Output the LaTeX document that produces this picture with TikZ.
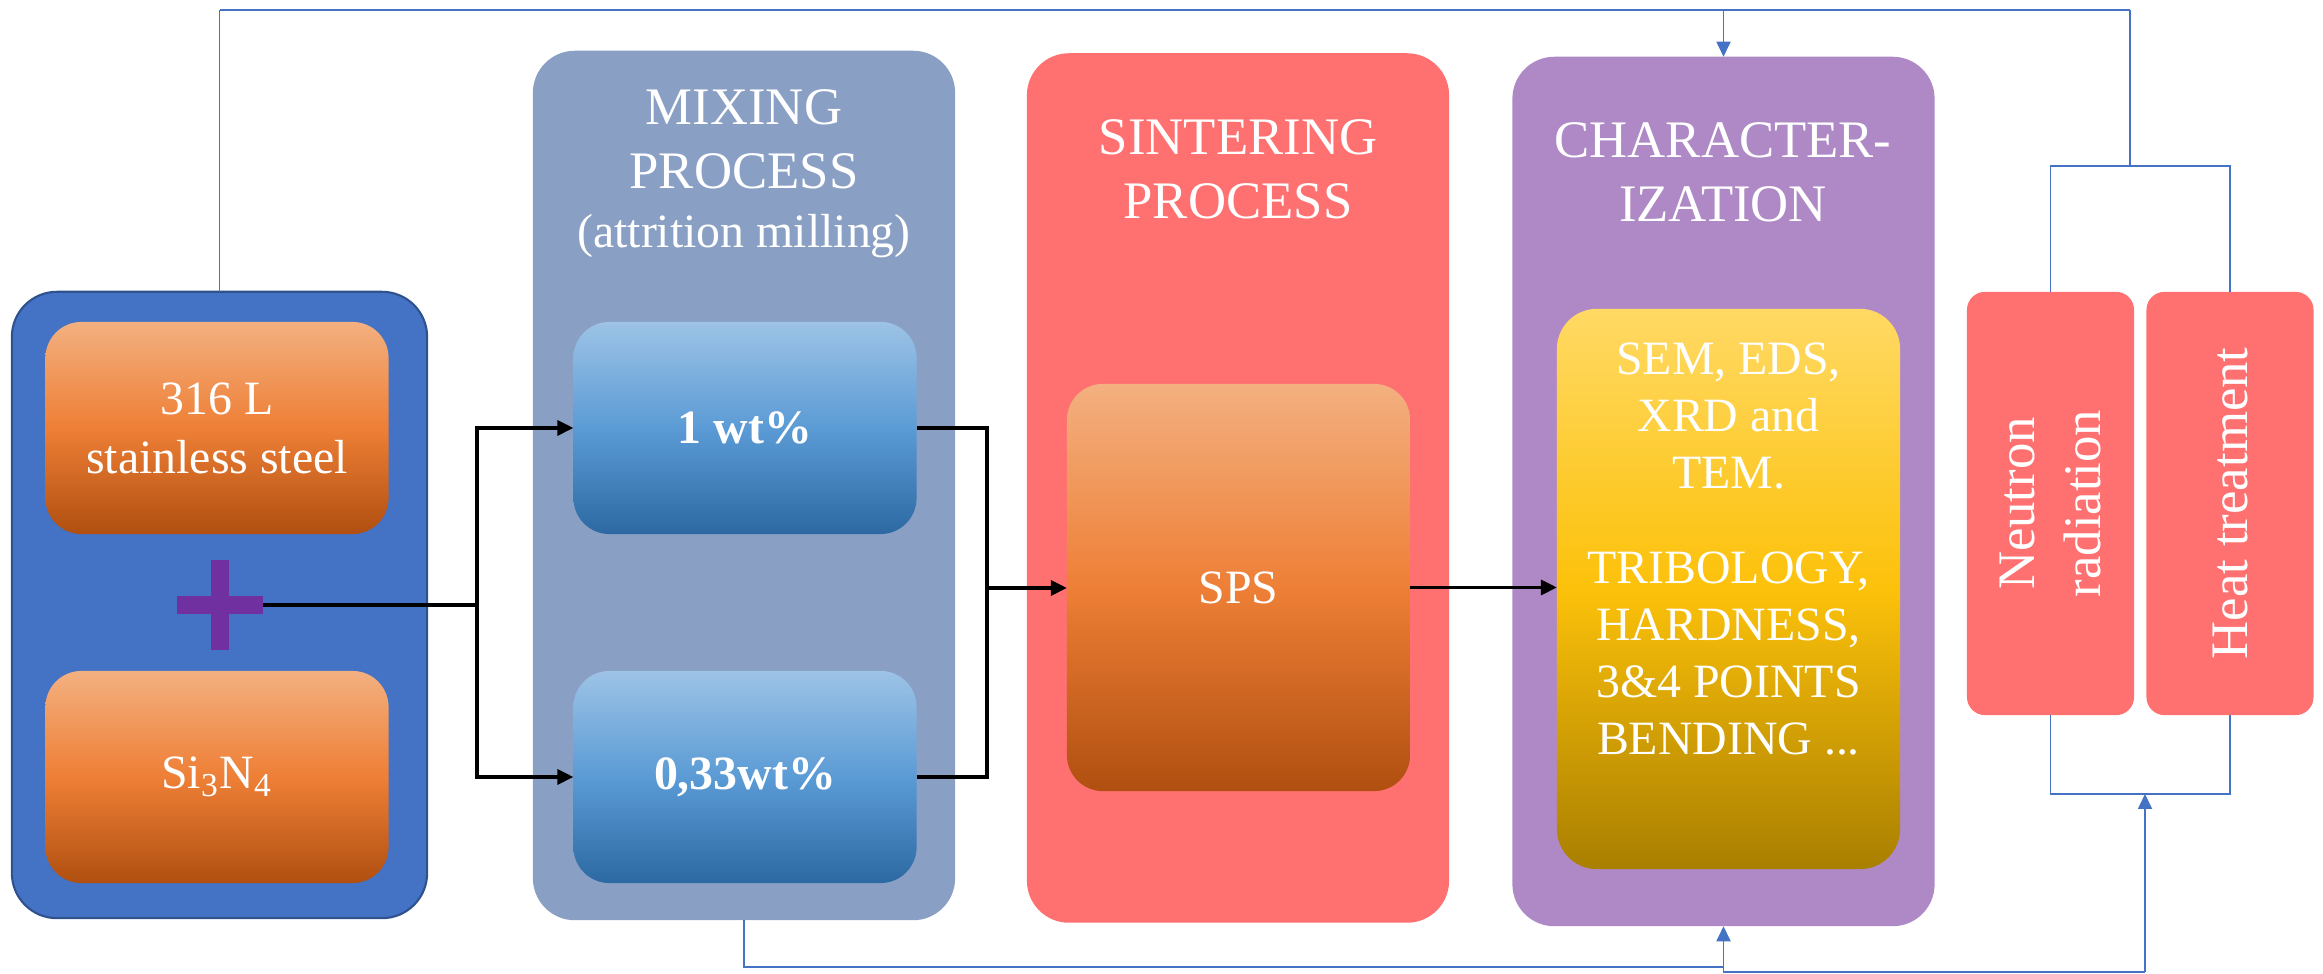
\documentclass[tikz,border=0pt]{standalone}
\usepackage{fontspec}
\setmainfont{Liberation Serif}
\usetikzlibrary{arrows.meta,shadings}

\definecolor{srcFill}{HTML}{4472C4}
\definecolor{srcLine}{HTML}{2F528F}
\definecolor{mixFill}{HTML}{8A9FC4}
\definecolor{sinFill}{HTML}{FF7070}
\definecolor{chrFill}{HTML}{AF89C6}
\definecolor{orTop}{HTML}{F3B080}
\definecolor{orMid}{HTML}{EE7F36}
\definecolor{orBot}{HTML}{B04F10}
\definecolor{blTop}{HTML}{9DC3E6}
\definecolor{blMid}{HTML}{5B9BD5}
\definecolor{blBot}{HTML}{2C69A3}
\definecolor{ylTop}{HTML}{FFD964}
\definecolor{ylMid}{HTML}{FCC10A}
\definecolor{ylBot}{HTML}{A97F00}
\definecolor{plusCol}{HTML}{7030A0}
\definecolor{railCol}{HTML}{4472C4}

\begin{document}
\begin{tikzpicture}[x=0.01cm, y=-0.01cm,
  every node/.style={inner sep=0pt, outer sep=0pt},
  panel/.style={rounded corners=0.42cm, minimum width=4.22cm, minimum height=8.69cm},
  tile/.style={rounded corners=0.36cm, minimum width=3.43cm, minimum height=2.12cm,
    text=white, align=center, font=\fontsize{13.6}{16.8}\selectfont},
  orangetile/.style={tile, top color=orTop, bottom color=orBot, middle color=orMid},
  bluetile/.style={tile, top color=blTop, bottom color=blBot, middle color=blMid,
    font=\fontsize{13.6}{16.8}\selectfont\bfseries},
  heading/.style={text=white, align=center, anchor=north, font=\fontsize{15}{18.2}\selectfont},
  sidebox/.style={fill=sinFill, rounded corners=0.18cm, minimum width=1.67cm, minimum height=4.23cm},
  sidetext/.style={text=white, align=center, rotate=90, font=\fontsize{15}{18.8}\selectfont},
  wire/.style={line width=0.9pt, black},
  flow/.style={wire, -{Triangle[length=1.6mm,width=1.5mm]}},
  rail/.style={line width=0.5pt, railCol},
  strongrail/.style={line width=0.8pt, railCol},
  thinrail/.style={line width=0.35pt, railCol},
  tip/.style={-{Triangle[length=1.5mm,width=1.4mm]}}
]
\useasboundingbox (0,0) rectangle (2323,974);

% ---- raw materials ----
\node[fill=srcFill, draw=srcLine, line width=0.6pt, rounded corners=0.45cm,
      minimum width=4.15cm, minimum height=6.26cm] (srcbox) at (219.5,605) {};
\node[orangetile] (steel) at (217,428) {316 L\\stainless steel};
\node[orangetile] (sinit) at (217,777) {Si\textsubscript{3}N\textsubscript{4}};
\node[minimum width=0.86cm, minimum height=0.9cm] (plus) at (220,605) {};
\fill[plusCol] (plus.west |- 0,596) rectangle (plus.east |- 0,614);
\fill[plusCol] (211,560) rectangle (229,650);

% ---- process columns ----
\node[panel, fill=mixFill] (mixbox) at (744,485.5) {};
\node[panel, fill=sinFill] (sinbox) at (1238,488) {};
\node[panel, fill=chrFill] (charbox) at (1723.5,491.5) {};

\node[heading] (mixtitle) at (744,90)
  {MIXING\\PROCESS\\[-1.4pt]{\fontsize{13.6}{16.8}\selectfont (attrition milling)}};
\node[heading] (sintitle) at (1238,120) {SINTERING\\PROCESS};
\node[heading] (chartitle) at (1723,123) {CHARACTER-\\IZATION};

\node[bluetile] (wt1) at (745,428) {1 wt\%};
\node[bluetile] (wt033) at (745,777) {0,33wt\%};

\node[orangetile, minimum height=4.07cm] (sps) at (1238.5,587.5) {SPS};

\node[tile, rounded corners=0.4cm, minimum height=5.6cm,
      top color=ylTop, bottom color=ylBot, middle color=ylMid] (yellow) at (1728.5,589) {};
\node[text=white, align=center, anchor=north, font=\fontsize{13.6}{16.2}\selectfont] (chartext) at (1728.5,343)
  {SEM, EDS,\\XRD and\\TEM.\\[10.8pt]TRIBOLOGY,\\HARDNESS,\\3\&4 POINTS\\BENDING ...};

% ---- post treatments ----
\node[sidebox] (neutron) at (2050.5,503.5) {};
\node[sidebox] (heat) at (2230,503.5) {};
\node[sidetext] (neutronlbl) at (neutron.center) {Neutron\\radiation};
\node[sidetext] (heatlbl) at (heat.center) {Heat treatment};

% ---- black process flow ----
\coordinate (split) at (477,605);
\draw[wire] (plus.east) -- (split);
\draw[flow] (split) |- (wt1.west);
\draw[flow] (split) |- (wt033.west);
\coordinate (merge) at (987,588);
\draw[wire] (wt1.east) -| (merge);
\draw[wire] (wt033.east) -| (merge);
\draw[flow] (merge) -- (merge -| sps.west);
\draw[flow] (sps.east) -- (sps.east -| yellow.west);

% ---- blue feedback rails ----
\coordinate (railT) at (0,10);
\coordinate (tl) at (srcbox.north |- railT);
\coordinate (tr) at (2130,10);
\coordinate (hub) at (2130,166);
\draw[rail] (srcbox.north) -- (tl);
\draw[strongrail] (tl) -- (tr);
\draw[rail] (tr) -- (hub);
\draw[rail, tip] (charbox.north |- railT) -- (charbox.north);
\draw[thinrail] (neutron.north) |- (hub) -| (heat.north);

\coordinate (lowhub) at (2145,794);
\draw[thinrail] (neutron.south) |- (lowhub) -| (heat.south);
\coordinate (railB) at (0,967);
\coordinate (b1) at (charbox.south |- railB);
\draw[strongrail] (mixbox.south) |- (b1);
\draw[rail, tip] (b1) -- (charbox.south);
\coordinate (b2) at (2145,972);
\draw[rail] (b1) |- (b2);
\draw[rail, tip] (b2) -- (lowhub);
\end{tikzpicture}
\end{document}
